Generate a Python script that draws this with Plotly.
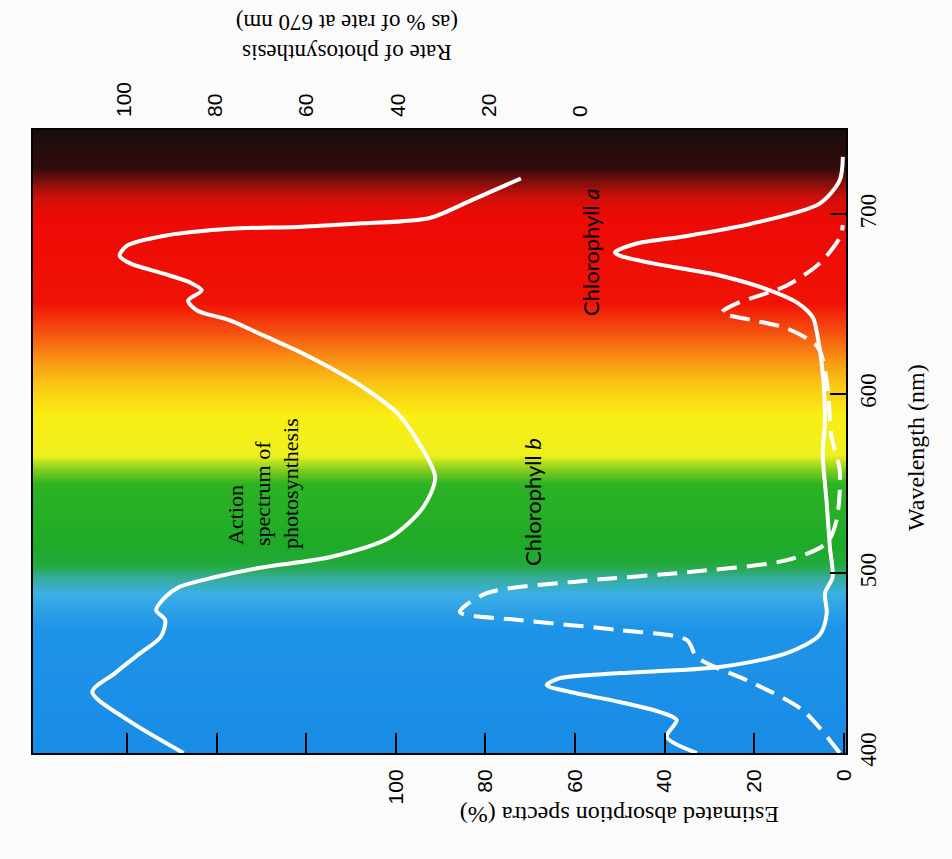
import plotly.graph_objects as go

# ---------------- data ----------------
wavelength_ticks = [400, 500, 600, 700]
absorb_ticks = [0, 20, 40, 60, 80, 100, 120, 140, 160]
absorb_ticktext = ["0", "20", "40", "60", "80", "100", "", "", ""]
rate_ticks = [0, 20, 40, 60, 80, 100]

# Action spectrum of photosynthesis (rate as % of rate at 670 nm)
action_wl = [400, 418, 434, 444.5, 455.6, 464.6, 474, 479.6, 486.8, 492.4, 498, 503.5, 509, 520,
             537, 553.6, 574, 589, 603.7, 614.8, 624, 632.6, 641, 646.5, 652, 657.7, 662, 667,
             672.7, 677, 682.7, 688, 692, 693, 695, 698, 707.7, 720]
action_rate = [87, 99, 107, 102, 96.5, 92, 91, 93, 91, 88, 80, 69.5, 55, 41.7,
               34.4, 31.8, 35.7, 40, 47.6, 55, 62, 69.5, 76.8, 84, 86, 83, 85.5, 91.4,
               98.7, 101, 99.3, 91.4, 76.8, 62, 47.6, 33, 24, 13]

# Chlorophyll a absorption (%)
chla_wl = [400, 408.9, 418.4, 422.8, 428.4, 434, 437.8, 441.7, 444.5, 447.9, 455.6, 465.7,
           477.9, 489, 498, 514.6, 539, 567, 585, 611.5, 631.5, 642.6, 651, 657.7, 666,
           672.7, 677, 678.8, 683.8, 688, 695, 706, 719, 732]
chla_abs = [32.8, 39.5, 37.3, 41, 50, 61, 66.3, 63.4, 50, 27.7, 12.7, 5.4,
            3.8, 4.2, 2.5, 3.1, 3.8, 4.7, 4.2, 4.7, 5.8, 6.9, 10.5, 16.5, 27.7,
            42.6, 50, 51.1, 46.2, 35, 20.3, 5.4, 0.9, 0.2]

# Chlorophyll b absorption (%)
chlb_wl = [400, 423.9, 439, 453.4, 462.9, 468.4, 474, 478.5, 489, 496, 500.7, 507.4,
           516.9, 529.7, 557.5, 577, 603.7, 626, 636.5, 641, 645.4, 650.4, 660.4, 672.7,
           687, 694]
chlb_abs = [0.9, 9.2, 20.3, 32.8, 35, 50, 72, 85.7, 79.7, 57.4, 35, 12.7,
            3.8, 1.6, 0.9, 2.8, 3.6, 5.8, 12.7, 20.3, 27.2, 23.9, 12.7, 5.4,
            0.9, 0.2]

# background visible spectrum colours
spectrum_wl = [400, 470, 489, 497, 505, 515, 550, 558, 566, 588, 605, 620, 636, 651,
               700, 710, 718, 726, 747]
spectrum_col = ["rgb(25,140,230)", "rgb(30,148,232)", "rgb(60,175,228)", "rgb(55,172,160)",
                "rgb(35,170,60)", "rgb(30,170,40)", "rgb(45,178,35)", "rgb(130,205,30)",
                "rgb(238,240,30)", "rgb(250,238,20)", "rgb(250,200,20)", "rgb(248,145,20)",
                "rgb(245,75,15)", "rgb(240,18,5)", "rgb(236,10,5)", "rgb(205,15,10)",
                "rgb(130,15,10)", "rgb(50,12,12)", "rgb(25,12,12)"]

# ---------------- figure ----------------
wl_min, wl_max = spectrum_wl[0], spectrum_wl[-1]
colorscale = [[(w - wl_min) / (wl_max - wl_min), c] for w, c in zip(spectrum_wl, spectrum_col)]
grid = list(range(395, 752))

fig = go.Figure()
fig.add_trace(go.Heatmap(
    x=[-5, 190], y=grid, z=[[g, g] for g in grid],
    zmin=wl_min, zmax=wl_max, colorscale=colorscale, zsmooth="best",
    showscale=False, hoverinfo="skip"))

line_w = 4
fig.add_trace(go.Scatter(x=chlb_abs, y=chlb_wl, mode="lines",
                         line=dict(color="white", width=line_w, dash="20px,10px",
                                   shape="spline", smoothing=0.8),
                         name="Chlorophyll b"))
fig.add_trace(go.Scatter(x=chla_abs, y=chla_wl, mode="lines",
                         line=dict(color="white", width=line_w, shape="spline", smoothing=0.8),
                         name="Chlorophyll a"))
fig.add_trace(go.Scatter(x=action_rate, y=action_wl, mode="lines", xaxis="x2",
                         line=dict(color="white", width=line_w, shape="spline", smoothing=0.8),
                         name="Action spectrum"))

serif = "Liberation Serif"
sans = "Liberation Sans"

L, R, T, B = 33, 106, 130, 106
W, H = 952, 859
pw, ph = W - L - R, H - T - B


def px(x):
    return (x - L) / pw


def py(y):
    return (H - B - y) / ph


def note(text, x, y, angle, family, size, align="center"):
    return dict(text=text, x=px(x), y=py(y), xref="paper", yref="paper",
                xanchor="center", yanchor="middle", showarrow=False,
                textangle=angle, align=align,
                font=dict(family=family, size=size, color="black"))


bg = "#fbfbfb"
fig.update_layout(
    width=W, height=H,
    margin=dict(l=L, r=R, t=T, b=B),
    paper_bgcolor=bg, plot_bgcolor=bg,
    showlegend=False,
    xaxis=dict(range=[181, -0.5], tickvals=absorb_ticks, ticktext=absorb_ticktext,
               tickangle=-90, ticks="inside", ticklen=20, tickwidth=2, tickcolor="black",
               showline=True, linecolor="black", linewidth=2, mirror=True,
               showgrid=False, zeroline=False, ticklabelstandoff=6,
               tickfont=dict(family=sans, size=21, color="black")),
    xaxis2=dict(range=[120, -58.3], overlaying="x", side="top", tickvals=rate_ticks,
                tickangle=-90, ticks="", showgrid=False, zeroline=False, showline=False,
                ticklabelstandoff=12,
                tickfont=dict(family=sans, size=21, color="black")),
    yaxis=dict(range=[400, 747], side="right", tickvals=wavelength_ticks, tickangle=-90,
               ticks="inside", ticklen=16, tickwidth=2, tickcolor="black",
               showline=True, linecolor="black", linewidth=2, mirror=True,
               showgrid=False, zeroline=False,
               tickfont=dict(family=serif, size=23, color="black")),
    annotations=[
        note("Wavelength (nm)", 916, 448, -90, serif, 24),
        note("Estimated absorption spectra (%)", 620, 815, 180, serif, 24),
        note("Rate of photosynthesis<br>(as % of rate at 670 nm)", 347, 37, 180, serif, 23),
        note("Action", 235, 515, -90, serif, 22),
        note("spectrum of", 262, 494, -90, serif, 22),
        note("photosynthesis", 290, 484, -90, serif, 22),
        note("Chlorophyll <i>b</i>", 532, 502, -90, "Lato", 22),
        note("Chlorophyll <i>a</i>", 590, 252, -90, "Lato", 22),
    ],
)

fig.write_html("out.html", config={"displayModeBar": False},
               post_script="document.body.style.margin='0';document.body.style.background='%s';" % bg)
